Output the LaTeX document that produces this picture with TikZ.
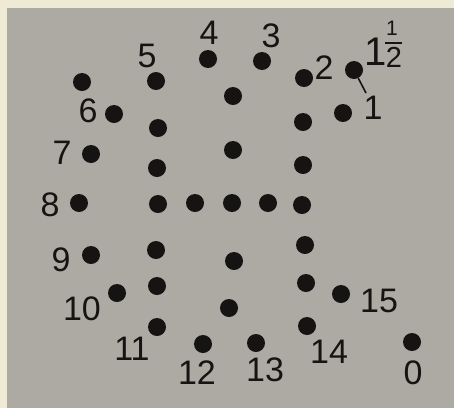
\documentclass[tikz,border=0pt]{standalone}
\usepackage{fontspec}
\setmainfont{Liberation Sans}
\definecolor{cream}{RGB}{238,234,214}
\definecolor{paper}{RGB}{172,170,162}
\definecolor{ink}{RGB}{22,20,18}
\begin{document}
\begin{tikzpicture}[x=1pt,y=-1pt,
  dot/.style={circle,fill=ink,inner sep=0pt,minimum size=18pt},
  lab/.style={text=ink,inner sep=0pt,font=\fontsize{34}{34}\selectfont},
  smalllab/.style={text=ink,inner sep=0pt,font=\fontsize{21}{21}\selectfont}]
\useasboundingbox (0,0) rectangle (454,408);
\fill[cream] (0,0) rectangle (454,408);
\fill[paper] (7,8) rectangle (454,408);
% dots
\node[dot] (d4) at (208,59) {};
\node[dot] (d3) at (262,61) {};
\node[dot] (d2) at (304,78) {};
\node[dot] (dh) at (354,70) {};
\node[dot] (dtl) at (82,82) {};
\node[dot] (d5) at (156,81) {};
\node[dot] (c1) at (233,96) {};
\node[dot] (d6) at (114,114) {};
\node[dot] (d1) at (343,113) {};
\node[dot] (l1) at (158,128) {};
\node[dot] (r1) at (303,122) {};
\node[dot] (d7) at (91,154) {};
\node[dot] (c2) at (233,150) {};
\node[dot] (l2) at (157,168) {};
\node[dot] (r2) at (303,165) {};
\node[dot] (d8) at (79,203) {};
\node[dot] (m1) at (158,204) {};
\node[dot] (m2) at (195,203) {};
\node[dot] (m3) at (232,203) {};
\node[dot] (m4) at (268,203) {};
\node[dot] (m5) at (302,205) {};
\node[dot] (d9) at (91,255) {};
\node[dot] (l3) at (156,250) {};
\node[dot] (c3) at (234,261) {};
\node[dot] (r3) at (305,245) {};
\node[dot] (d10) at (117,293) {};
\node[dot] (l4) at (157,286) {};
\node[dot] (r4) at (306,283) {};
\node[dot] (d15) at (341,294) {};
\node[dot] (c4) at (229,308) {};
\node[dot] (d11) at (157,327) {};
\node[dot] (d14) at (307,326) {};
\node[dot] (d12) at (203,344) {};
\node[dot] (d13) at (256,343) {};
\node[dot] (d0) at (412,342) {};
% labels
\node[lab] (t4) at (209,33) {4};
\node[lab] (t3) at (271,36) {3};
\node[lab] (t5) at (147,56) {5};
\node[lab] (t2) at (324,68) {2};
\node[lab] (t6) at (88,111) {6};
\node[lab] (t7) at (62,153) {7};
\node[lab] (t8) at (50,205) {8};
\node[lab] (t9) at (61,260) {9};
\node[lab] (t10) at (82,309) {10};
\node[lab] (t11) at (132,349) {11};
\node[lab] (t12) at (197,373) {12};
\node[lab] (t13) at (265,370) {13};
\node[lab] (t14) at (329,352) {14};
\node[lab] (t15) at (379,301) {15};
\node[lab] (t0) at (413,373) {0};
\node[lab] (t1) at (373,108) {1};
% one and a half
\node[text=ink,inner sep=0pt,font=\fontsize{40}{40}\selectfont] (hb) at (376,52) {1};
\node[smalllab] (hn) at (392,28) {1};
\node[text=ink,inner sep=0pt,font=\fontsize{29}{29}\selectfont] (hd) at (394,57) {2};
\coordinate (barl) at (385,43);
\coordinate (barr) at (402,43);
\draw[ink,line width=2.2pt] (barl) -- (barr);
\coordinate (lead) at (366,93);
\draw[ink,line width=1.6pt] (dh) -- (lead);
\end{tikzpicture}
\end{document}
